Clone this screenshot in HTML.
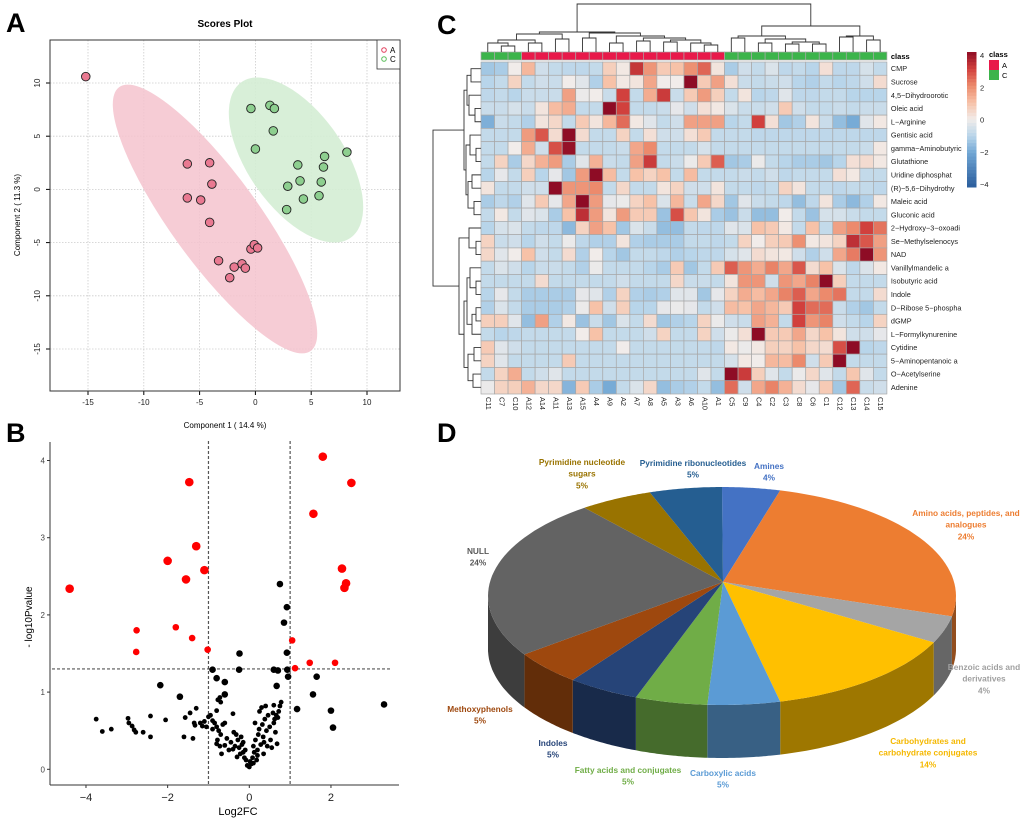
<!DOCTYPE html>
<html><head><meta charset="utf-8">
<style>
html,body{margin:0;padding:0;background:#fff;}
svg{display:block;font-family:"Liberation Sans",sans-serif;}
</style></head>
<body>
<svg id="fig" width="1020" height="821" viewBox="0 0 1020 821" xmlns="http://www.w3.org/2000/svg">
<rect x="0" y="0" width="1020" height="821" fill="#fff"/>
<text x="6" y="32" font-size="27" font-weight="bold">A</text>
<text x="6" y="442" font-size="27" font-weight="bold">B</text>
<text x="437" y="34" font-size="27" font-weight="bold">C</text>
<text x="437" y="442" font-size="27" font-weight="bold">D</text>
<g id="pA"></g>
<g id="pB"></g>
<g id="pC"></g>
<g id="pD"></g>
</svg>
<script>
var NS="http://www.w3.org/2000/svg";
function mk(tag,attrs,parent,txt){var e=document.createElementNS(NS,tag);for(var k in attrs)e.setAttribute(k,attrs[k]);if(txt!==undefined)e.textContent=txt;parent.appendChild(e);return e;}

/* ---------- Panel A data ---------- */
var scoreTicksX=[-15,-10,-5,0,5,10];
var scoreTicksY=[-15,-10,-5,0,5,10];
var groupAx=[-15.2,-6.1,-4.1,-3.9,-6.1,-4.9,-4.1,-3.3,-2.3,-1.9,-1.2,-0.9,-0.4,-0.1,0.2];
var groupAy=[10.6,2.4,2.5,0.5,-0.8,-1.0,-3.1,-6.7,-8.3,-7.3,-7.0,-7.4,-5.6,-5.2,-5.5];
var groupCx=[-0.4,1.3,1.7,1.6,0.0,3.8,6.2,8.2,6.1,4.0,5.9,2.9,4.3,5.7,2.8];
var groupCy=[7.6,7.9,7.6,5.5,3.8,2.3,3.1,3.5,2.1,0.8,0.7,0.3,-0.9,-0.6,-1.9];

/* ---------- Panel B data ---------- */
var volTicksX=[-4,-2,0,2];
var volTicksY=[0,1,2,3,4];
var redBigX=[-1.47,1.8,2.5,1.57,-1.3,-2.0,-1.1,-1.55,2.27,2.37,2.33,-4.4];
var redBigY=[3.72,4.05,3.71,3.31,2.89,2.7,2.58,2.46,2.6,2.41,2.35,2.34];
var redSmallX=[-2.76,-1.8,-1.4,-2.77,-1.02,1.05,1.12,1.48,2.1];
var redSmallY=[1.8,1.84,1.7,1.52,1.55,1.67,1.31,1.38,1.38];
var blackBigX=[0.75,0.92,0.85,0.92,-0.24,-0.25,-0.9,0.6,0.7,0.93,0.95,1.65,1.56,0.67,-2.18,-0.6,-0.8,-1.7,-0.6,3.3,2.0,2.05,1.17];
var blackBigY=[2.4,2.1,1.9,1.51,1.5,1.29,1.29,1.29,1.28,1.29,1.2,1.2,0.97,1.08,1.09,1.13,1.18,0.94,0.97,0.84,0.76,0.54,0.78];
var blackSmallX=[-3.75,-3.6,-3.38,-2.97,-2.95,-2.87,-2.82,-2.78,-2.6,-2.42,-2.42,-2.05,-1.6,-1.38,-1.57,-1.45,-1.3,-1.35,-1.33,-1.2,-1.1,-1.15,-1.05,-0.95,-0.9,-0.85,-0.8,-0.77,-0.72,-0.7,-0.8,-0.75,-0.7,-0.78,-0.8,-0.72,-0.68,-0.65,-0.6,-0.55,-0.5,-0.45,-0.4,-0.38,-0.35,-0.32,-0.28,-0.25,-0.22,-0.2,-0.18,-0.15,-0.12,-0.1,-0.08,-0.05,0,0.02,0.05,0.08,0.1,0.12,0.14,0.15,0.18,0.2,0.22,0.24,0.25,0.28,0.3,0.32,0.34,0.35,0.38,0.4,0.42,0.44,0.46,0.5,0.52,0.55,0.58,0.6,0.62,0.64,0.66,0.68,0.7,0.72,0.75,0.78,0.6,0.2,-0.3,-0.6,-0.9,-1.0,-0.4,0.1,0.36,-0.15];
var blackSmallY=[0.65,0.49,0.52,0.66,0.6,0.56,0.51,0.48,0.48,0.69,0.42,0.64,0.42,0.4,0.67,0.73,0.79,0.6,0.57,0.6,0.62,0.56,0.55,0.7,0.52,0.6,0.76,0.9,0.93,0.87,0.55,0.5,0.45,0.38,0.33,0.3,0.2,0.58,0.6,0.4,0.25,0.35,0.72,0.48,0.3,0.45,0.38,0.28,0.2,0.42,0.32,0.22,0.15,0.25,0.12,0.05,0.03,0.1,0.07,0.15,0.3,0.22,0.6,0.38,0.12,0.25,0.45,0.52,0.75,0.32,0.8,0.58,0.42,0.2,0.65,0.82,0.5,0.3,0.7,0.55,0.38,0.28,0.73,0.83,0.65,0.48,0.7,0.33,0.67,0.75,0.82,0.87,0.6,0.18,0.16,0.31,0.63,0.68,0.26,0.08,0.35,0.35];

/* ---------- Panel C data ---------- */
var hmCols=["C11","C7","C10","A12","A14","A11","A13","A15","A4","A9","A2","A7","A8","A5","A3","A6","A10","A1","C5","C9","C4","C2","C3","C8","C6","C1","C12","C13","C14","C15"];
var hmRows=["CMP","Sucrose","4,5\u2212Dihydroorotic","Oleic acid","L\u2212Arginine","Gentisic acid","gamma\u2212Aminobutyric","Glutathione","Uridine diphosphat","(R)\u22125,6\u2212Dihydrothy","Maleic acid","Gluconic acid","2\u2212Hydroxy\u22123\u2212oxoadi","Se\u2212Methylselenocys","NAD","Vanillylmandelic a","Isobutyric acid","Indole","D\u2212Ribose 5\u2212phospha","dGMP","L\u2212Formylkynurenine","Cytidine","5\u2212Aminopentanoic a","O\u2212Acetylserine","Adenine"];
var hmClass=["C","C","C","A","A","A","A","A","A","A","A","A","A","A","A","A","A","A","C","C","C","C","C","C","C","C","C","C","C","C"];
var hmValues=[
[-1.3,-1.2,0,1.2,-0.6,-0.8,-0.9,-0.9,-0.8,0.7,0.1,3.2,1.8,0.8,1,1.9,2.5,0.2,-1.2,-0.6,-0.8,-0.4,-0.9,-0.8,-1,0.3,-0.9,-0.9,-0.5,-0.8],
[-1,-0.8,0.6,-0.8,-0.6,-0.7,0,-0.3,-1.1,1,0.1,0.2,1.5,0,0,4.2,0.8,1.6,0.3,-0.7,-0.8,-0.7,-0.6,-1,-1.1,-0.8,-1,-0.9,-0.6,0.4],
[-0.9,-0.8,-1,-0.7,-0.7,-0.7,1.6,-0.1,0,-0.7,3,-0.8,1.4,3.1,-0.7,0.8,1.7,0.7,-0.8,0.2,-1,-0.9,-0.3,-0.9,-0.9,-0.8,-0.8,-1,-1,-1],
[-0.7,-0.7,-0.5,-0.7,0.2,1.1,1.4,-0.8,-0.8,4,3,-0.8,-0.8,-0.7,-0.2,-0.6,0.3,0.1,-0.4,-0.7,-0.7,-0.6,0.8,-0.6,-0.8,-0.8,-0.7,-0.8,-0.7,-0.7],
[-1.8,-0.7,-0.8,-1.1,0.2,0.5,-0.8,0.8,0.2,1.2,2.4,0.1,-0.3,-0.8,-0.6,1.6,1.6,1.6,-1,-0.8,3,0.3,-1.3,-1.1,0.2,-0.7,-1.5,-1.9,-0.3,0.1],
[-0.8,-0.8,-0.8,1.7,2.7,0.4,4.3,0.4,-0.8,-0.8,0.6,-0.8,0.3,-0.6,-0.6,0.3,0.8,-0.8,-0.8,-0.8,-0.9,-0.9,-0.9,-0.9,-0.9,-0.9,-0.9,-0.9,-0.9,-0.9],
[-0.8,-0.8,0,1.4,-0.6,2.8,3.9,-0.8,-0.8,-0.8,-0.7,1.5,2,-0.8,-0.8,-0.8,-0.5,-0.8,-0.8,-0.8,-0.8,-0.8,-0.8,-0.8,-0.8,-0.8,-0.8,-0.8,-0.7,0.1],
[-0.8,0.6,-1.2,0.5,1.3,1.7,-1.2,-0.3,1.3,-0.7,-0.8,1.6,3.1,-0.8,-0.7,-0.1,0.8,2.6,-1.3,-1.2,-0.1,-0.8,-1,-1.2,-1.2,-1.3,-1,0.3,0.4,0.1],
[-1,-0.2,-0.8,0.7,-1,-0.2,-1.3,1.7,4.3,1.1,-0.8,1,0.6,1,-0.8,1.1,-0.8,-0.8,-0.8,-0.7,-0.8,-0.6,-0.9,-0.8,-0.8,-0.8,0.3,0.1,-0.8,-0.8],
[0.2,-0.8,-0.8,-0.6,-0.6,4,1.8,1.8,2,-0.8,0.5,-0.8,-0.8,0.2,0.6,-0.6,-0.6,0.2,-0.8,-0.8,-0.9,-0.8,0.6,0.2,-0.8,-0.8,-0.9,-0.8,-0.8,-0.9],
[-1.2,-0.9,-1.1,-0.3,0.8,-0.2,1.5,4,1.7,-0.2,-0.1,0.6,1,-0.4,1.2,-0.7,1.5,0.5,-1.3,-0.3,-0.7,-0.8,-0.9,-1.5,-0.9,0.2,-1.2,-1.6,-1.1,0.1],
[-0.8,0.1,-0.8,-0.3,-0.4,-1.2,1,3.3,1.7,0.2,1.7,0.8,0.8,-1.4,2.8,0.9,0.2,-1.2,-1.4,-0.7,-1.5,-1.5,0,-0.8,-1.4,-0.5,-0.5,-0.7,-0.8,-0.8],
[-1,-0.5,-0.4,-0.8,-0.9,-0.9,-1.6,0.6,1.6,1,-1.3,-0.4,-0.7,-1.5,-1.5,-0.8,-0.9,-0.9,-0.3,-0.4,1,0.8,0.1,-0.8,1,-0.8,1.6,2,3,2.3],
[0.6,-0.7,-0.6,-1,-0.6,-0.8,-0.1,-0.9,-1.1,-1.1,0.2,-1.1,-1.2,-1.2,-1.2,-0.8,-0.8,-0.9,-0.8,0.6,0,0.7,0.8,1.9,0.1,0.2,0.6,3.3,2.7,1.6],
[0.5,-0.3,0,1,-0.6,-0.8,0.4,-1.1,0,-1,-1.3,-0.8,-0.8,-0.9,-1.1,-1,-0.9,-0.9,-0.5,-0.3,0.4,0.2,0.1,-0.6,-1.1,-0.6,1.5,2.2,4.3,1.8],
[-0.8,-0.4,-0.6,-1,-0.7,-0.7,-0.8,-1.1,-0.1,-0.8,-0.8,-0.8,-1,-1.2,0.8,-1.3,-0.8,0.8,2.6,1.8,1.4,2.1,1.5,2.7,0.4,1,-0.4,-0.9,-0.4,0.1],
[-0.8,-0.8,-0.8,-0.8,0.4,-0.8,-0.8,-0.8,-0.8,-0.8,-0.6,-0.8,-0.8,-0.8,0.5,-0.7,-0.7,-0.8,0.2,1.8,1.8,-0.6,1.8,1.5,2.1,4,0.7,-0.8,-0.8,-0.8],
[-1,-0.2,-0.8,-1.2,-1.2,-1.2,-1.2,-0.2,-0.3,-1.1,0.6,-1.1,-1.2,-1.1,-0.3,-0.3,-1.3,-0.2,0.6,1.4,1.1,1.5,2.1,2.6,1.5,2,2.3,-0.8,-0.8,0.4],
[-1.1,-0.4,-0.8,-1.2,-1.2,-1.2,-1.1,-0.1,1,-0.6,0.7,-1,-1,-0.2,-0.1,-0.2,-0.8,-0.6,1.1,1,1.5,1.2,0.8,3,2.4,2.4,-0.7,-1.1,-1.3,-0.8],
[0.7,0.7,-0.3,-1.5,1.6,-1.1,0.1,-1.4,-0.7,-1.3,-0.4,-0.8,0.4,-1.3,-1.1,-1,0.6,-0.1,-0.6,-0.7,1.6,1.3,-0.8,3,1.8,2.1,-0.6,-0.8,-1,0.6],
[-0.8,-1,-0.9,-0.8,-0.8,-0.8,-0.8,0,1,-0.8,-0.8,-0.8,-0.6,0.6,-0.8,-0.8,0.6,-0.6,-0.1,0.3,4.3,0.8,0.8,1.5,0.5,1,0.2,-0.6,-0.6,-0.2],
[0.8,-0.3,-0.6,-0.8,-0.8,-0.8,-0.8,-0.8,-0.8,-0.8,0,-0.8,-0.8,-0.8,-0.8,-0.8,-0.8,-0.9,0.1,-0.1,0.1,0.7,0.6,1,0.5,0.4,2.8,4.3,-1,-0.9],
[0.6,-0.3,-0.8,-0.8,-0.8,-0.8,0.8,-0.8,-0.8,-0.8,-0.8,-0.8,-0.8,-0.8,-0.8,-0.8,-0.8,-0.8,-0.5,0.1,0,1.2,1.1,2,-0.6,0.8,4.3,-0.8,-0.8,-0.8],
[-0.8,0.6,1.4,-0.8,-0.6,-0.3,-0.8,-0.8,-0.8,-0.8,-0.8,-0.8,-0.8,-0.8,-0.8,-0.8,-0.3,-0.8,4.2,3.1,0.7,-0.3,-0.8,-0.1,0.5,-0.3,-0.8,0.9,-0.3,-0.8],
[-0.1,0.6,0.7,1.3,0.5,0.5,-1.7,0.8,-1.2,-1.9,-0.8,-0.4,0.5,-1.5,-1.2,-1.1,-0.8,-1.5,2.4,-0.6,1.5,2.1,1.3,0.4,-0.2,0.8,-1.3,2.5,-0.7,-0.6]];
var hmLegendTicks=[4,2,0,-2,-4];

/* ---------- Panel D data ---------- */
var pieLabels=["Amines","Amino acids, peptides, and analogues","Benzoic acids and derivatives","Carbohydrates and carbohydrate conjugates","Carboxylic acids","Fatty acids and conjugates","Indoles","Methoxyphenols","NULL","Pyrimidine nucleotide sugars","Pyrimidine ribonucleotides"];
var pieValues=[4,24,4,14,5,5,5,5,24,5,5];
var pieColors=["#4472c4","#ed7d31","#a5a5a5","#ffc000","#5b9bd5","#70ad47","#264478","#9e480e","#636363","#997300","#255e91"];

/* ================= Panel A ================= */
(function(){
var g=document.getElementById('pA');
var X0=50,X1=400,Y0=40,Y1=391;
function sx(v){return 255.4+v*11.16;}
function sy(v){return 189.4-v*10.64;}
var t=mk('text',{x:225,y:27,'font-size':10,'font-weight':'bold','text-anchor':'middle'},g,'Scores Plot');


scoreTicksX.forEach(function(v){
 var l=mk('line',{x1:sx(v),x2:sx(v),y1:Y0,y2:Y1,stroke:'#ccc','stroke-dasharray':'1.5,1.5','stroke-width':0.8},g);
 
 
 var tk=mk('line',{x1:sx(v),x2:sx(v),y1:Y1,y2:Y1+4,stroke:'#000'},g);
 
 
 var tl=mk('text',{x:sx(v),y:Y1+14,'font-size':8,'text-anchor':'middle',fill:'#222'},g,String(v));
 
 
});
scoreTicksY.forEach(function(v){
 var l=mk('line',{x1:X0,x2:X1,y1:sy(v),y2:sy(v),stroke:'#ccc','stroke-dasharray':'1.5,1.5','stroke-width':0.8},g);
 
 
 var tk=mk('line',{x1:X0-4,x2:X0,y1:sy(v),y2:sy(v),stroke:'#000'},g);
 
 
 var tl=mk('text',{x:40,y:sy(v),'font-size':8,'text-anchor':'middle',transform:'rotate(-90 40 '+sy(v)+')',fill:'#222'},g,String(v));
 
 
});
var e1=mk('ellipse',{cx:215,cy:219,rx:163,ry:44,transform:'rotate(54 215 219)',fill:'#f4c3ce',opacity:0.85},g);


var e2=mk('ellipse',{cx:296,cy:160,rx:95,ry:48,transform:'rotate(55 296 160)',fill:'#d4edd4',opacity:0.9},g);


groupAx.forEach(function(v,i){
 var c=mk('circle',{cx:sx(v),cy:sy(groupAy[i]),r:4.3,fill:'#e97991',stroke:'#222','stroke-width':0.9},g);
 
 
});
groupCx.forEach(function(v,i){
 var c=mk('circle',{cx:sx(v),cy:sy(groupCy[i]),r:4.3,fill:'#8dcf8f',stroke:'#222','stroke-width':0.9},g);
 
 
});
var fr=mk('rect',{x:X0,y:Y0,width:X1-X0,height:Y1-Y0,fill:'none',stroke:'#333','stroke-width':1},g);


var lg=mk('rect',{x:377,y:40,width:23,height:29,fill:'#fff',stroke:'#333','stroke-width':0.8},g);


var la=mk('circle',{cx:384,cy:50,r:2.3,fill:'none',stroke:'#e2405e'},g);


var lat=mk('text',{x:390,y:53,'font-size':8},g,'A');


var lc=mk('circle',{cx:384,cy:59,r:2.3,fill:'none',stroke:'#5cbf5c'},g);


var lct=mk('text',{x:390,y:62,'font-size':8},g,'C');


var xl=mk('text',{x:225,y:428,'font-size':8,'text-anchor':'middle'},g,'Component 1 ( 14.4 %)');


var yl=mk('text',{x:20,y:215,'font-size':8,'text-anchor':'middle',transform:'rotate(-90 20 215)'},g,'Component 2 ( 11.3 %)');


})();

/* ================= Panel B ================= */
(function(){
var g=document.getElementById('pB');
function sx(v){return 249.3+v*40.83;}
function sy(v){return 769.3-v*77.2;}
var ax=mk('line',{x1:50,x2:50,y1:442,y2:785,stroke:'#333','stroke-width':1},g);


var bx=mk('line',{x1:50,x2:399,y1:785,y2:785,stroke:'#333','stroke-width':1},g);


volTicksX.forEach(function(v){
 var tk=mk('line',{x1:sx(v),x2:sx(v),y1:785,y2:788,stroke:'#333'},g);
 
 
 var tl=mk('text',{x:sx(v),y:801,'font-size':11,'text-anchor':'middle',fill:'#222'},g,String(v).replace('-','\u2212'));
 
 
});
volTicksY.forEach(function(v){
 var tk=mk('line',{x1:47,x2:50,y1:sy(v),y2:sy(v),stroke:'#333'},g);
 
 
 var tl=mk('text',{x:45,y:sy(v)+3,'font-size':8,'text-anchor':'end',fill:'#444'},g,String(v));
 
 
});
[-1,1].forEach(function(v){
 var l=mk('line',{x1:sx(v),x2:sx(v),y1:441,y2:785,stroke:'#555','stroke-dasharray':'3,2','stroke-width':1.2},g);
 
 
});
var hl=mk('line',{x1:52,x2:392,y1:sy(1.3),y2:sy(1.3),stroke:'#555','stroke-dasharray':'3,2','stroke-width':1.2},g);


blackSmallX.forEach(function(v,i){
 var c=mk('circle',{cx:sx(v),cy:sy(blackSmallY[i]),r:2.4,fill:'#000'},g);
 
 
});
blackBigX.forEach(function(v,i){
 var c=mk('circle',{cx:sx(v),cy:sy(blackBigY[i]),r:3.3,fill:'#000'},g);
 
 
});
redSmallX.forEach(function(v,i){
 var c=mk('circle',{cx:sx(v),cy:sy(redSmallY[i]),r:3.3,fill:'#f00'},g);
 
 
});
redBigX.forEach(function(v,i){
 var c=mk('circle',{cx:sx(v),cy:sy(redBigY[i]),r:4.3,fill:'#f00'},g);
 
 
});
var xl=mk('text',{x:238,y:815,'font-size':11,'text-anchor':'middle'},g,'Log2FC');


var yl=mk('text',{x:32,y:617,'font-size':10,'text-anchor':'middle',transform:'rotate(-90 32 617)'},g,'- log10Pvalue');


})();

/* ================= Panel C ================= */
(function(){
var g=document.getElementById('pC');
var HX=481,HY=62,CW=13.53,CH=13.28;
var stops=[[-4,[43,93,156]],[-2,[112,166,212]],[-1,[184,213,234]],[0,[241,236,234]],[1,[247,194,168]],[2,[236,138,108]],[3,[209,64,61]],[4,[142,12,37]]];
function col(v){
 if(v<=stops[0][0])return 'rgb('+stops[0][1].join(',')+')';
 for(var i=1;i<stops.length;i++){if(v<=stops[i][0]){var a=stops[i-1],b=stops[i],t=(v-a[0])/(b[0]-a[0]);return 'rgb('+[0,1,2].map(function(k){return Math.round(a[1][k]+(b[1][k]-a[1][k])*t);}).join(',')+')';}}
 return 'rgb('+stops[stops.length-1][1].join(',')+')';
}
hmValues.forEach(function(row,r){
 row.forEach(function(v,c){
  var rc=mk('rect',{x:HX+c*CW,y:HY+r*CH,width:CW,height:CH,fill:col(v),stroke:'#a8a8a8','stroke-width':0.7},g);
  
  
 });
 var tl=mk('text',{x:HX+30*CW+4,y:HY+r*CH+CH/2+2.6,'font-size':7.3,fill:'#222'},g,hmRows[r]);
 
 
});
hmClass.forEach(function(k,c){
 var rc=mk('rect',{x:HX+c*CW,y:52,width:CW,height:8,fill:k==='A'?'#e8194a':'#3cb44b',stroke:'#a8a8a8','stroke-width':0.7},g);
 
 
 var cx=HX+c*CW+CW/2, cy=HY+25*CH+3;
 var tl=mk('text',{x:cx,y:cy,'font-size':7.3,fill:'#222',transform:'rotate(90 '+cx+' '+cy+')','dominant-baseline':'middle'},g,hmCols[c]);
 
 
});
var cl=mk('text',{x:HX+30*CW+4,y:59,'font-size':7.5,'font-weight':'bold'},g,'class');


function n(h,ch){return {h:h,c:ch};}
var topTree=n(4,[n(32,[n(34,[n(40,[n(43,[0,n(46,[1,2])]),n(43,[3,4])]),n(39,[5,6])]),n(33,[n(38,[7,8]),n(36,[n(43,[9,10]),n(38,[n(41,[11,12]),n(40,[n(42,[13,14]),n(43,[15,n(45,[16,17])])])])])])]),n(26,[n(36,[n(38,[18,19]),n(39,[n(43,[20,21]),n(42,[n(44,[22,23]),n(44,[24,25])])])]),n(36,[n(37,[26,27]),n(40,[28,29])])])]);
var leftTree=n(433,[n(464,[n(467,[n(471,[0,1]),n(469,[2,n(475,[3,4])])]),n(466,[n(470,[5,n(476,[6,7])]),n(468,[n(472,[8,9]),n(474,[10,11])])])]),n(459,[n(469,[12,n(476,[13,14])]),n(464,[n(467,[n(470,[15,n(476,[16,17])]),n(472,[n(476,[18,19]),20])]),n(468,[n(474,[21,22]),n(473,[23,24])])])])]);
var dp='';
function drawTop(node){
 if(typeof node==='number')return {x:HX+node*CW+CW/2,y:52};
 var a=drawTop(node.c[0]),b=drawTop(node.c[1]);
 dp+='M'+a.x+' '+a.y+'V'+node.h+'H'+b.x+'V'+b.y;
 return {x:(a.x+b.x)/2,y:node.h};
}
function drawLeft(node){
 if(typeof node==='number')return {x:481,y:HY+node*CH+CH/2};
 var a=drawLeft(node.c[0]),b=drawLeft(node.c[1]);
 dp+='M'+a.x+' '+a.y+'H'+node.h+'V'+b.y+'H'+b.x;
 return {x:node.h,y:(a.y+b.y)/2};
}
drawTop(topTree);drawLeft(leftTree);
var den=mk('path',{d:dp,fill:'none',stroke:'#333','stroke-width':0.9},g);


var LY0=52,LY1=187;
for(var i=0;i<40;i++){
 var v=4-i*8/40;
 var rc=mk('rect',{x:967,y:LY0+i*(LY1-LY0)/40,width:9.5,height:(LY1-LY0)/40+0.5,fill:col(v-0.1)},g);
 
 
}
hmLegendTicks.forEach(function(v){
 var y=LY0+3+(4-v)/8*(LY1-LY0-6);
 var tl=mk('text',{x:980,y:y+3,'font-size':7.5,fill:'#222'},g,String(v).replace('-','\u2212'));
 
 
});
var ct=mk('text',{x:989,y:57,'font-size':7.5,'font-weight':'bold'},g,'class');


var ra=mk('rect',{x:989,y:60,width:10,height:10,fill:'#e8194a'},g);


var rcC=mk('rect',{x:989,y:70,width:10,height:10,fill:'#3cb44b'},g);


var ta=mk('text',{x:1002,y:68,'font-size':7.5},g,'A');


var tc=mk('text',{x:1002,y:78,'font-size':7.5},g,'C');


})();

/* ================= Panel D ================= */
(function(){
var g=document.getElementById('pD');
var AX=723,AY=582,ECX=722,ECY=596,RX=234,RY=109,DEP=53;
function pt(t,dy){return [ECX+RX*Math.cos(t),ECY+RY*Math.sin(t)+(dy||0)];}
function shade(hex,f){var r=parseInt(hex.substr(1,2),16),gg=parseInt(hex.substr(3,2),16),b=parseInt(hex.substr(5,2),16);return 'rgb('+Math.round(r*f)+','+Math.round(gg*f)+','+Math.round(b*f)+')';}
var total=pieValues.reduce(function(a,b){return a+b;},0);
var ang=-Math.PI/2, slices=[];
pieValues.forEach(function(v,i){var a2=ang+v/total*2*Math.PI;slices.push([ang,a2]);ang=a2;});
slices.forEach(function(s,i){
 var segs=[[s[0],s[1]],[s[0]-2*Math.PI,s[1]-2*Math.PI]];
 segs.forEach(function(sg){
  var a1=Math.max(sg[0],0),a2=Math.min(sg[1],Math.PI);
  if(a2<=a1)return;
  var d='',N=30,k,p;
  for(k=0;k<=N;k++){p=pt(a1+(a2-a1)*k/N);d+=(k?'L':'M')+p[0].toFixed(1)+' '+p[1].toFixed(1);}
  for(k=N;k>=0;k--){p=pt(a1+(a2-a1)*k/N,DEP);d+='L'+p[0].toFixed(1)+' '+p[1].toFixed(1);}
  var pa=mk('path',{d:d+'Z',fill:shade(pieColors[i],0.62)},g);
  
  
 });
});
slices.forEach(function(s,i){
 var d='M'+AX+' '+AY,N=40;
 for(var k=0;k<=N;k++){var p=pt(s[0]+(s[1]-s[0])*k/N);d+='L'+p[0].toFixed(1)+' '+p[1].toFixed(1);}
 var pa=mk('path',{d:d+'Z',fill:pieColors[i]},g);
 
 
});
var labelPos=[[769,466,['Amines']],[966,513,['Amino acids, peptides, and','analogues']],[984,667,['Benzoic acids and','derivatives']],[928,741,['Carbohydrates and','carbohydrate conjugates']],[723,773,['Carboxylic acids']],[628,770,['Fatty acids and conjugates']],[553,743,['Indoles']],[480,709,['Methoxyphenols']],[478,551,['NULL']],[582,462,['Pyrimidine nucleotide','sugars']],[693,463,['Pyrimidine ribonucleotides']]];
var labelCols=["#4472c4","#ed7d31","#a0a0a0","#f5b800","#5b9bd5","#70ad47","#264478","#9e480e","#595959","#997300","#255e91"];
labelPos.forEach(function(lp,i){
 var lines=lp[2].concat([pieValues[i]+'%']);
 lines.forEach(function(tx,j){
  var t=mk('text',{x:lp[0],y:lp[1]+j*11.7+3,'font-size':8.3,'font-weight':'bold','text-anchor':'middle',fill:labelCols[i]},g,tx);
  
  
 });
});
})();
</script>
</body></html>
